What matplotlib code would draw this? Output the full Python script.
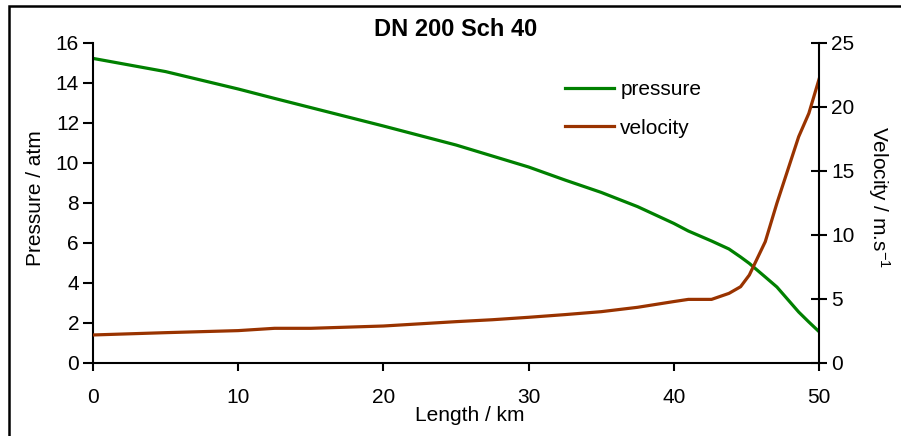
import matplotlib
matplotlib.use("Agg")
import matplotlib.pyplot as plt
from matplotlib.patches import Rectangle

plt.rcParams['font.family'] = ['Liberation Sans', 'DejaVu Sans']
plt.rcParams['mathtext.fontset'] = 'custom'
plt.rcParams['mathtext.rm'] = 'Liberation Sans'
plt.rcParams['mathtext.it'] = 'Liberation Sans'

# Data
length_km = [0, 5, 10, 12.5, 15, 20, 25, 27.5, 30, 32.5, 35, 37.5, 40, 41,
             42.6, 43.8, 44.6, 45.2, 46.3, 47.1, 48.6, 49.3, 50]
pressure_atm = [15.23, 14.57, 13.7, 13.23, 12.77, 11.85, 10.9, 10.35, 9.8, 9.15,
                8.53, 7.82, 6.98, 6.6, 6.1, 5.7, 5.3, 4.98, 4.3, 3.8, 2.55, 2.05, 1.57]
velocity_ms = [2.19, 2.37, 2.53, 2.71, 2.71, 2.89, 3.23, 3.38, 3.57, 3.78,
               4.01, 4.35, 4.8, 4.97, 4.97, 5.44, 5.96, 6.87, 9.48, 12.48, 17.68, 19.5, 22.16]

x_ticks = [0, 10, 20, 30, 40, 50]
p_ticks = [0, 2, 4, 6, 8, 10, 12, 14, 16]
v_ticks = [0, 5, 10, 15, 20, 25]

W, H = 901, 436
fig = plt.figure(figsize=(W / 100, H / 100), dpi=100)
ax = fig.add_axes([93 / W, 1 - 363 / H, (819 - 93) / W, (363 - 43) / H])
ax2 = ax.twinx()

green = '#008000'
brown = '#993300'
lp, = ax.plot(length_km, pressure_atm, color=green, lw=2.3, label='pressure')
lv, = ax2.plot(length_km, velocity_ms, color=brown, lw=2.3, label='velocity')

ax.set_xlim(0, 50)
ax.set_ylim(0, 16)
ax2.set_ylim(0, 25)
ax.set_xticks(x_ticks)
ax.set_yticks(p_ticks)
ax2.set_yticks(v_ticks)

fs = 15
for a in (ax, ax2):
    for s in a.spines.values():
        s.set_linewidth(1.5)
    a.spines['top'].set_visible(False)
ax.spines['right'].set_visible(False)
ax2.spines['left'].set_visible(False)
ax2.spines['bottom'].set_visible(False)

ax.tick_params(axis='x', direction='out', length=6, width=1.5, labelsize=fs, pad=12)
ax.tick_params(axis='y', direction='out', length=7, width=1.5, labelsize=fs, pad=3)
ax2.tick_params(axis='y', direction='inout', length=12, width=1.5, labelsize=fs, pad=3)

ax.set_title('DN 200 Sch 40', fontsize=17, fontweight='bold', pad=5)
ax.set_xlabel('Length / km', fontsize=fs)
ax.xaxis.set_label_coords((470 - 93) / (819 - 93), -(406 - 363) / (363 - 43))
ax.set_ylabel('Pressure / atm', fontsize=fs)
ax.yaxis.set_label_coords(-(93 - 45) / (819 - 93), (363 - 198) / (363 - 43))
ax2.set_ylabel('Velocity / m.s$^{-1}$', fontsize=fs, rotation=270, va='center')
ax2.yaxis.set_label_coords(1 + (879 - 819) / (819 - 93), (363 - 197) / (363 - 43))

leg = ax.legend(handles=[lp, lv], loc='upper left', frameon=False, fontsize=fs,
                bbox_to_anchor=((565 - 93) / (819 - 93), 1 - (80 - 43) / (363 - 43)),
                handlelength=2.35, handletextpad=0.3, labelspacing=0.95,
                borderaxespad=0, borderpad=0)

fig.patches.append(Rectangle((9 / W, -0.1), 1.2, 1 - 6 / H + 0.1, transform=fig.transFigure,
                             fill=False, edgecolor='black', lw=1.8))

fig.savefig('out.png', dpi=100)
